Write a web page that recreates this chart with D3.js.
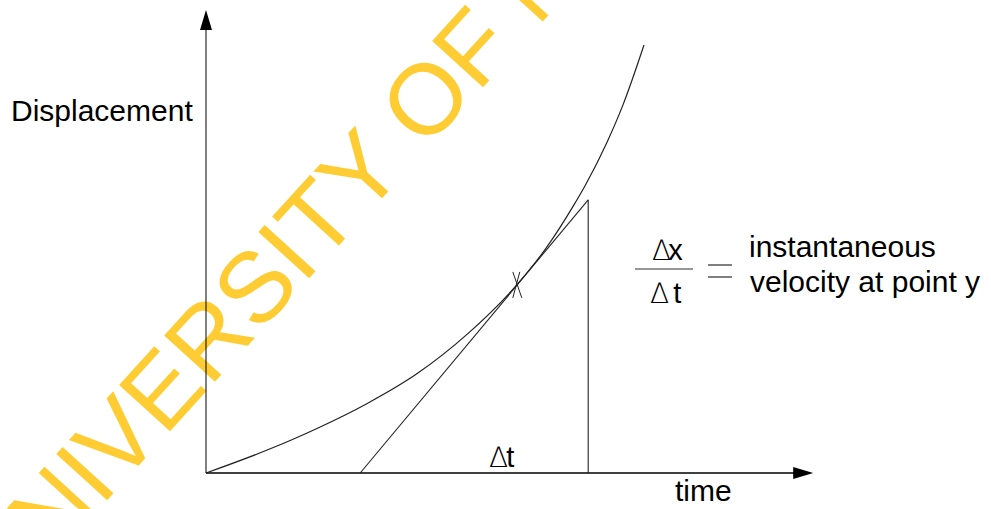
<!DOCTYPE html>
<html>
<head>
<meta charset="utf-8">
<script src="https://cdn.jsdelivr.net/npm/d3@7"></script>
<style>
  html, body { margin: 0; padding: 0; background: #fff; }
  svg { display: block; }
  text { font-family: "Liberation Sans", Arial, sans-serif; }
  tspan.delta { font-family: "DejaVu Sans", sans-serif; font-weight: 200; }
</style>
</head>
<body>
<svg id="chart" width="991" height="509"></svg>
<script>
// ---- data ----
const curveTime = [0, 1.02, 1.85, 2.68, 3.52, 4.35, 5.18, 5.68, 6.12, 6.32, 6.68, 6.95, 7.30];
const curveDisp = [0, 0.51, 0.99, 1.54, 2.21, 3.08, 4.18, 5.02, 5.93, 6.39, 7.34, 8.18, 9.51];
const tangentTime = [2.57, 6.37];
const tangentDisp = [0, 6.07];
const pointY = [5.18, 4.18];          // point y where tangent touches
const xAxisEnd = 10.12, yAxisEnd = 10.29;
const labels = {
  yTitle: "Displacement",
  xTitle: "time",
  line1: "instantaneous",
  line2: "velocity at point y",
  watermark: "UNIVERSITY OF NAIROBI"
};

const svg = d3.select("#chart");
const x = d3.scaleLinear().domain([0, 10]).range([206, 806]);
const y = d3.scaleLinear().domain([0, 10]).range([473, 23]);

// ---- watermark ----
svg.append("text")
  .attr("transform", "translate(3.7,613.9) rotate(-47.7)")
  .attr("font-size", 100)
  .attr("fill", "#FFCC33")
  .text(labels.watermark);

// ---- axes ----
svg.append("line")
  .attr("x1", x(0)).attr("x2", x(0))
  .attr("y1", y(0)).attr("y2", y(yAxisEnd) + 18)
  .attr("stroke", "#000").attr("stroke-opacity", 0.5).attr("stroke-width", 2);
svg.append("path")
  .attr("d", `M${x(0)},${y(yAxisEnd)} L${x(0) + 6},${y(yAxisEnd) + 20} L${x(0) - 6},${y(yAxisEnd) + 20} Z`)
  .attr("fill", "#000");
svg.append("line")
  .attr("x1", x(0)).attr("x2", x(xAxisEnd) - 18)
  .attr("y1", y(0)).attr("y2", y(0))
  .attr("stroke", "#000").attr("stroke-width", 1.6);
svg.append("path")
  .attr("d", `M${x(xAxisEnd)},${y(0)} L${x(xAxisEnd) - 20},${y(0) - 6} L${x(xAxisEnd) - 20},${y(0) + 6} Z`)
  .attr("fill", "#000");

// ---- curve ----
const curveData = curveTime.map((t, i) => [t, curveDisp[i]]);
svg.append("path")
  .datum(curveData)
  .attr("d", d3.line().x(d => x(d[0])).y(d => y(d[1])).curve(d3.curveMonotoneX))
  .attr("fill", "none").attr("stroke", "#222").attr("stroke-width", 1.2);

// ---- tangent line and vertical ----
svg.append("line")
  .attr("x1", x(tangentTime[0])).attr("y1", y(tangentDisp[0]))
  .attr("x2", x(tangentTime[1])).attr("y2", y(tangentDisp[1]))
  .attr("stroke", "#222").attr("stroke-width", 1.1);
svg.append("line")
  .attr("x1", x(tangentTime[1])).attr("y1", y(0))
  .attr("x2", x(tangentTime[1])).attr("y2", y(tangentDisp[1]))
  .attr("stroke", "#222").attr("stroke-width", 1.1);

// ---- X marker at point y ----
const px = x(pointY[0]), py = y(pointY[1]);
svg.append("line").attr("x1", px - 4).attr("y1", py - 13).attr("x2", px + 5).attr("y2", py + 13)
  .attr("stroke", "#222").attr("stroke-width", 1);
svg.append("line").attr("x1", px + 3).attr("y1", py - 13).attr("x2", px - 4).attr("y2", py + 13)
  .attr("stroke", "#222").attr("stroke-width", 1);

// ---- labels ----
svg.append("text").attr("x", 11).attr("y", 121).attr("font-size", 30).attr("fill", "#000").text(labels.yTitle);
svg.append("text").attr("x", 675).attr("y", 501).attr("font-size", 30).attr("fill", "#000").text(labels.xTitle);
svg.append("text").attr("x", 749).attr("y", 257).attr("font-size", 30).attr("fill", "#000").text(labels.line1);
svg.append("text").attr("x", 750).attr("y", 292).attr("font-size", 30).attr("fill", "#000").text(labels.line2);

function deltaLabel(xp, yp, letter, gap) {
  const t = svg.append("text").attr("x", xp).attr("y", yp).attr("font-size", 29).attr("fill", "#000");
  t.append("tspan").attr("class", "delta").attr("font-size", 28).text("∆");
  t.append("tspan").attr("dx", gap).text(letter);
}
// Δt along the axis
deltaLabel(489, 467, "t", -2);
// fraction Δx / Δ t
deltaLabel(652, 260, "x", -3);
svg.append("line").attr("x1", 635).attr("x2", 693).attr("y1", 269).attr("y2", 269)
  .attr("stroke", "#000").attr("stroke-opacity", 0.55).attr("stroke-width", 1.6);
deltaLabel(650, 303, "t", 4);
// equals sign
[265, 277].forEach(yy => {
  svg.append("line").attr("x1", 708).attr("x2", 732).attr("y1", yy).attr("y2", yy)
    .attr("stroke", "#000").attr("stroke-opacity", 0.5).attr("stroke-width", 2);
});
</script>
</body>
</html>
